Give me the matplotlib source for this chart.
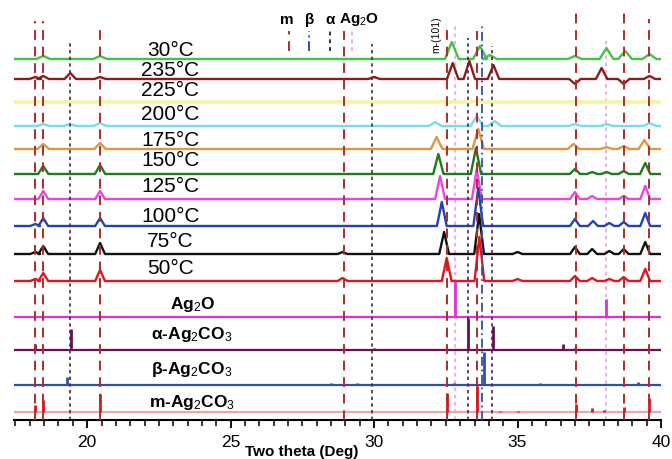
import matplotlib
matplotlib.use("Agg")
import matplotlib.pyplot as plt
from matplotlib.ticker import MultipleLocator

plt.rcParams['font.family'] = ['Liberation Sans', 'DejaVu Sans']
plt.rcParams['mathtext.fontset'] = 'custom'
plt.rcParams['mathtext.rm'] = 'Liberation Sans'
plt.rcParams['mathtext.bf'] = 'Liberation Sans:bold'
plt.rcParams['mathtext.it'] = 'Liberation Sans:italic'

# ---- data ----------------------------------------------------------------
# measured patterns: (two theta, peak height above the baseline)
temps = ["30°C", "235°C", "225°C", "200°C", "175°C", "150°C",
         "125°C", "100°C", "75°C", "50°C"]
pk_30 = [(18.47, 3), (20.45, 3), (32.71, 17), (33.69, 13), (34.04, 4),
         (37.0, 3), (38.1, 11), (38.75, 8), (39.6, 5)]
pk_235 = [(18.19, 2), (18.47, 3), (19.41, 6), (20.45, 2), (30.0, 2),
          (32.74, 16), (33.32, 18), (34.16, 14), (37.0, -5), (37.93, 11),
          (38.7, -5), (39.6, 3)]
pk_225 = [(33.6, 2)]
pk_200 = [(18.47, 2), (19.4, 2), (20.45, 3), (32.13, 4), (33.58, 10),
          (34.2, 5), (37.0, 2), (38.1, 2), (39.6, 3)]
pk_175 = [(18.47, 5), (20.45, 6), (32.18, 12), (33.63, 20), (36.95, 5),
          (38.1, 2), (38.7, 3), (39.42, 9)]
pk_150 = [(18.47, 8), (20.45, 9), (32.24, 20), (33.55, 26), (37.0, 5),
          (37.6, 2), (38.1, 2), (38.7, 3), (39.45, 11)]
pk_125 = [(18.47, 8), (20.45, 8), (32.3, 23), (33.58, 30), (37.0, 7),
          (37.6, 3), (38.7, 3), (39.45, 13)]
pk_100 = [(18.19, 2), (18.47, 8), (20.45, 8), (32.36, 24), (33.63, 38),
          (37.0, 7), (37.63, 5), (38.2, 3), (38.7, 4), (39.45, 13)]
pk_75 = [(18.19, 2), (18.47, 8), (20.45, 11), (28.9, 2), (32.44, 22),
         (33.66, 40), (35.0, 2), (37.0, 7), (37.6, 5), (38.2, 3),
         (38.7, 5), (39.45, 12)]
pk_50 = [(18.19, 2), (18.47, 8), (20.45, 11), (28.9, 3), (32.53, 23),
         (33.67, 44), (35.0, 2), (37.0, 5), (37.6, 3), (38.2, 2),
         (38.7, 4), (39.45, 12)]
peak_half_width = [0.24, 0.2, 0.2, 0.22, 0.2, 0.18, 0.17, 0.17, 0.17, 0.17]

# reference patterns (stick lines)
refs = ["Ag$_2$O", "α-Ag$_2$CO$_3$", "β-Ag$_2$CO$_3$", "m-Ag$_2$CO$_3$"]
sticks_ag2o = [(32.82, 36), (38.08, 18)]
sticks_alpha = [(18.19, 6), (19.45, 21), (30.0, 2), (33.27, 32), (34.15, 24),
                (36.6, 6), (37.0, 2)]
sticks_beta = [(19.3, 8), (26.5, 1), (28.5, 2), (29.4, 2), (32.8, 2),
               (33.83, 33), (35.8, 2), (37.0, 1), (39.2, 3)]
sticks_m = [(18.19, 7), (18.47, 12), (20.45, 18), (32.54, 19), (33.59, 26),
            (34.4, 1), (35.0, 1), (37.04, 8), (37.6, 4), (38.0, 2),
            (38.7, 5), (39.57, 14)]

# guide lines: (two theta, top end)
guide_m = [(18.19, 399), (18.47, 399), (20.45, 394), (28.95, 389), (32.54, 394),
           (33.59, 389), (37.04, 408), (38.70, 408), (39.57, 401)]
guide_alpha = [(19.41, 379), (29.93, 376), (33.27, 382), (34.11, 374)]
guide_beta = [(33.76, 394)]
guide_ag2o = [(32.82, 396), (38.08, 381)]

# ---- layout / style --------------------------------------------------------
trace_offsets = [361, 341, 318, 294, 271, 246, 221, 194, 166, 139]
trace_colors = ["#46c146", "#8c1c1c", "#f3f3a8", "#70e0ea", "#e0963c",
                "#1e7a1e", "#f040e8", "#2242b2", "#111111", "#e8121c"]
label_y = [371, 351, 331, 306, 281, 260, 235, 204, 179, 153]
ref_offsets = [103, 70, 35, 8]
ref_colors = ["#e030d8", "#6a1050", "#3050a8", "#e01020"]
ref_base_colors = ["#e030d8", "#6a1050", "#3050a8", "#f2a4a4"]
ref_label_y = [116, 86, 51, 18]

XMIN, XMAX = 17.45, 40.0

fig = plt.figure(figsize=(6.72, 4.60), dpi=100)
ax = fig.add_axes([14 / 672, 39 / 460, 647 / 672, 421 / 460])


def trace_xy(peaks, w, base):
    xs, ys = [XMIN], [base]
    for p, h in sorted(peaks):
        xs += [p - w, p, p + w]
        ys += [base, base + h, base]
    xs.append(XMAX)
    ys.append(base)
    return xs, ys


all_peaks = [pk_30, pk_235, pk_225, pk_200, pk_175, pk_150, pk_125, pk_100, pk_75, pk_50]
for peaks, w, off, col, name, ly in zip(all_peaks, peak_half_width, trace_offsets,
                                        trace_colors, temps, label_y):
    xs, ys = trace_xy(peaks, w, off)
    lw = 2.6 if name == "225°C" else 1.7
    ax.plot(xs, ys, color=col, lw=lw, zorder=2, solid_joinstyle='round')
    ax.text(22.9, ly, name, fontsize=15, ha='center', va='center', zorder=5)

all_sticks = [sticks_ag2o, sticks_alpha, sticks_beta, sticks_m]
for sticks, off, col, bcol, name, ly in zip(all_sticks, ref_offsets, ref_colors,
                                           ref_base_colors, refs, ref_label_y):
    ax.plot([XMIN, XMAX], [off, off], color=bcol, lw=1.6, zorder=2)
    pos = [s[0] for s in sticks]
    hts = [off + s[1] for s in sticks]
    ax.vlines(pos, off, hts, color=col, lw=2.0, zorder=2)
    ax.text(23.66, ly, name, fontsize=12.5, fontweight='bold', math_fontfamily='custom',
            ha='center', va='center', zorder=5)

# dashed guide lines
for x, top in guide_m:
    ax.vlines(x, 0, top, color="#b02a2a", lw=1.4, linestyles=(0, (5, 3.5)), zorder=3)
for x, top in guide_alpha:
    ax.vlines(x, 0, top, color="#4a2a4a", lw=1.2, linestyles=(0, (2, 2)), zorder=3)
for x, top in guide_beta:
    ax.vlines(x, 0, top, color="#2a50b0", lw=1.3, linestyles=(0, (5, 2, 1, 2)), zorder=3)
for x, top in guide_ag2o:
    ax.vlines(x, 0, top, color="#f0a8e4", lw=1.3, linestyles=(0, (2, 2)), zorder=1)

# key at the top
key_labels = ["m", "β", "α", "Ag$_2$O"]
key_x = [26.95, 27.75, 28.47, 29.48]
key_line_x = [27.03, 27.72, 28.47, 29.23]
key_colors = ["#b02a2a", "#2a50b0", "#4a2a4a", "#f0a8e4"]
key_styles = [(0, (5, 3.5)), (0, (5, 2, 1, 2)), (0, (2, 2)), (0, (2, 2))]
for lab, lx, tx, c, ls in zip(key_labels, key_x, key_line_x, key_colors, key_styles):
    ax.text(lx, 401, lab, fontsize=11, fontweight='bold', ha='center', va='center')
    ax.vlines(tx, 369, 389, color=c, lw=1.4, linestyles=ls)
ax.text(32.16, 386, "m-(101)", fontsize=7.5, rotation=90, ha='center', va='center')

ax.set_xlim(XMIN, XMAX)
ax.set_ylim(0, 421)
ax.xaxis.set_major_locator(MultipleLocator(5))
ax.xaxis.set_minor_locator(MultipleLocator(0.5))
ax.tick_params(axis='x', which='major', direction='out', length=6, width=1.3,
               labelsize=12.5, pad=4)
ax.tick_params(axis='x', which='minor', direction='out', length=4, width=1.1)
ax.set_yticks([])
for s in ['left', 'right', 'top']:
    ax.spines[s].set_visible(False)
ax.spines['bottom'].set_linewidth(1.5)
ax.set_xlabel("Two theta (Deg)", fontsize=11, fontweight='bold', labelpad=0)
ax.xaxis.set_label_coords(0.444, -0.058)

fig.savefig("out.png", dpi=100)
